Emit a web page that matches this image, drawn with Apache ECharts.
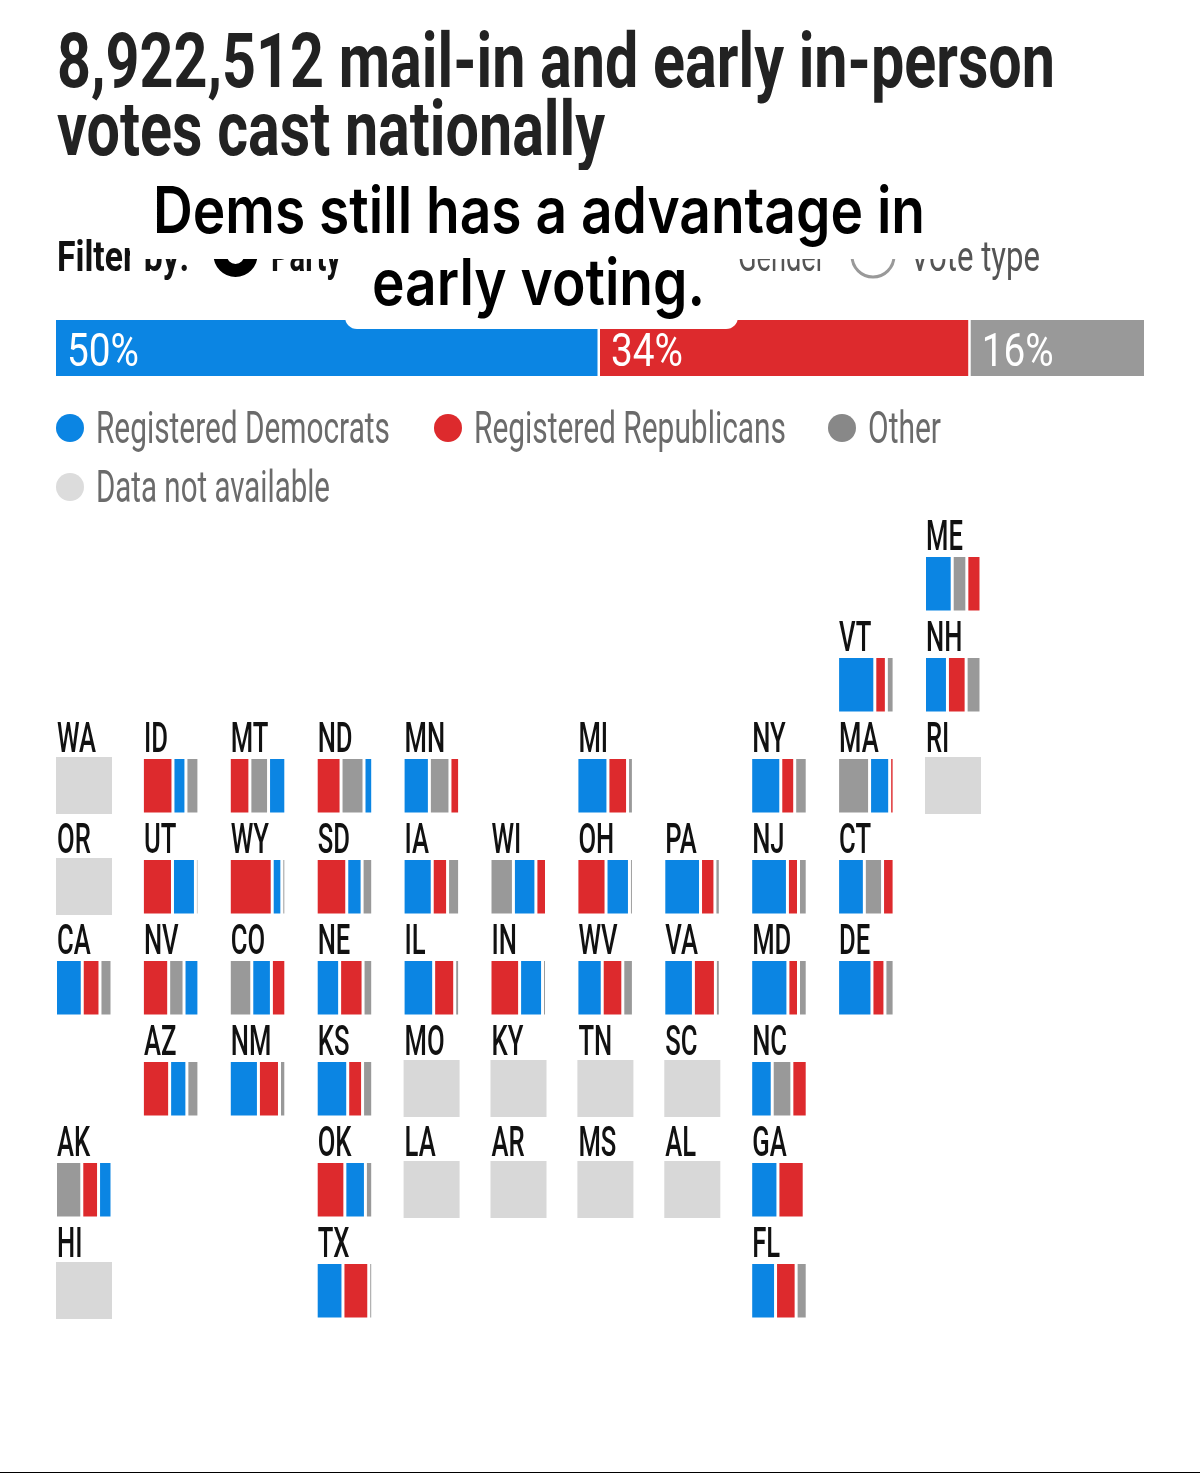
<!DOCTYPE html>
<html>
<head>
<meta charset="utf-8">
<script src="https://cdn.jsdelivr.net/npm/echarts@6/dist/echarts.min.js"></script>
<style>html,body{margin:0;padding:0;background:#fff}#c{width:1200px;height:1473px}</style>
</head>
<body>
<div id="c"></div>
<script>
// ---------- data ----------
const titleLines = ['8,922,512 mail-in and early in-person', 'votes cast nationally'];
const captionLines = ['Dems still has a advantage in', 'early voting.'];
const filterLabel = 'Filter by:';
const filterOptions = ['Party', 'Gender', 'Vote type'];
const parties = ['Registered Democrats', 'Registered Republicans', 'Other'];
const noData = 'Data not available';
const nationalShares = [50, 34, 16];

const states = ['ME','VT','NH','WA','ID','MT','ND','MN','MI','NY','MA','RI','OR','UT','WY','SD','IA','WI','OH','PA','NJ','CT','CA','NV','CO','NE','IL','IN','WV','VA','MD','DE','AZ','NM','KS','MO','KY','TN','SC','NC','AK','OK','LA','AR','MS','AL','GA','HI','TX','FL'];
const dem = [52,72,42,null,21,30,12,49,59,57,36,null,null,42,14,26,55,41,43,71,71,50,50,25,35,43,58,42,47,56,72,66,30,55,60,null,null,null,null,39,22,37,null,null,null,null,51,null,50,46];
const rep = [23.5,18,33,null,58,37,46,14,35,23,3,null,null,57,84,58,26,16,55,24,17,18,31,49,24,43,38,56,37,40,16,21,51,38,25,null,null,null,null,26,29,54,null,null,null,null,49,null,48,37];
const oth = [24.5,10,25,null,21,33,42,37,6,20,61,null,null,1,2,16,19,43,2,5,12,32,19,26,41,14,4,2,16,4,12,13,19,7,15,null,null,null,null,35,49,9,null,null,null,null,0,null,2,17];

// ---------- layout & style ----------
const rowsOfTiles = [
  {ME:10},
  {VT:9,NH:10},
  {WA:0,ID:1,MT:2,ND:3,MN:4,MI:6,NY:8,MA:9,RI:10},
  {OR:0,UT:1,WY:2,SD:3,IA:4,WI:5,OH:6,PA:7,NJ:8,CT:9},
  {CA:0,NV:1,CO:2,NE:3,IL:4,IN:5,WV:6,VA:7,MD:8,DE:9},
  {AZ:1,NM:2,KS:3,MO:4,KY:5,TN:6,SC:7,NC:8},
  {AK:0,OK:3,LA:4,AR:5,MS:6,AL:7,GA:8},
  {HI:0,TX:3,FL:8}
];
const partyColors = ['#0b85e3', '#dd2a2d', '#999999'];
const legendDot = ['#0b85e3', '#dd2a2d', '#888888', '#dcdcdc'];
const COND = 'Roboto,sans-serif';
const measure = document.createElement('canvas').getContext('2d');
function fit(text, font, w) { measure.font = font; return w / measure.measureText(text).width; }

const graphic = [];
function text(str, x, midY, size, weight, color, targetW, z, family) {
  const font = `${weight} ${size}px ${family || COND}`;
  graphic.push({type:'text', x, y:midY, scaleX: targetW ? fit(str,font,targetW) : 1, z: z||5, silent:true,
    style:{text:str, font, fill:color, verticalAlign:'middle', align:'left'}});
}

// title, filter row
text(titleLines[0], 57, 68, 76, 700, '#222', 998);
text(titleLines[1], 57, 136, 76, 700, '#222', 548);
text(filterLabel, 57, 260, 43, 700, '#111', 132);
text(filterOptions[0], 271, 260, 43, 700, '#111', 70);
text(filterOptions[1], 738, 260, 43, 400, '#555', 87);
text(filterOptions[2], 910, 260, 43, 400, '#555', 130);
graphic.push({type:'circle', z:5, silent:true, shape:{cx:235.5,cy:255,r:15.5}, style:{fill:'#fff',stroke:'#000',lineWidth:13}});
graphic.push({type:'circle', z:5, silent:true, shape:{cx:873,cy:256,r:21}, style:{fill:'#fff',stroke:'#999',lineWidth:3}});

// white caption plate over the filter row and the top of the bar
graphic.push({type:'rect', z:20, silent:true, shape:{x:130,y:170,width:828,height:89,r:[14,14,0,0]}, style:{fill:'#fff'}});
graphic.push({type:'rect', z:20, silent:true, shape:{x:345,y:250,width:393,height:79,r:[0,0,12,12]}, style:{fill:'#fff'}});
text(captionLines[0], 153, 214, 64, 600, '#000', 772, 21, 'Inter,Roboto,sans-serif');
text(captionLines[1], 372, 286, 64, 600, '#000', 333, 21, 'Inter,Roboto,sans-serif');

// legend
[[70,428,96,294],[448,428,474,312],[842,428,868,73],[70,487,96,234]].forEach((p,i) => {
  graphic.push({type:'circle', z:5, silent:true, shape:{cx:p[0],cy:p[1],r:14}, style:{fill:legendDot[i]}});
  text(i<3?parties[i]:noData, p[2], p[1]+4, 44, 400, '#6b6b6b', p[3]);
});

// ---------- charts ----------
const grids = [], xAxes = [], yAxes = [], series = [];
function addGrid(left, top, width, height, max) {
  const i = grids.length;
  grids.push({left, top, width, height, containLabel:false});
  xAxes.push({gridIndex:i, type:'value', min:0, max, show:false});
  yAxes.push({gridIndex:i, type:'category', data:[''], show:false});
  return i;
}
function addStack(gridIdx, key, order, values, gap) {
  order.forEach((p, n) => {
    series.push({type:'bar', name:parties[p], stack:key, xAxisIndex:gridIdx, yAxisIndex:gridIdx, barWidth:'100%',
      silent:true, animation:false, itemStyle:{color:partyColors[p]}, data:[values[p]]});
    if (n < order.length - 1) {
      series.push({type:'bar', name:'gap', stack:key, xAxisIndex:gridIdx, yAxisIndex:gridIdx, barWidth:'100%',
        silent:true, animation:false, itemStyle:{color:'transparent'}, data:[gap]});
    }
  });
}

// national bar
const natGap = 0.23, natIdx = addGrid(56, 320, 1088, 56, 100 + 2*natGap);
addStack(natIdx, 'national', [0,1,2], nationalShares, natGap);
let cum = 0;
const natLabels = nationalShares.map((s,i) => { const r = [cum, s + '%']; cum += s + natGap; return r; });
const pctFont = `400 47px ${COND}`, pctScale = fit('50%', pctFont, 72);
series.push({type:'custom', xAxisIndex:natIdx, yAxisIndex:natIdx, silent:true, animation:false, z:6,
  data: natLabels,
  renderItem: (params, api) => {
    const pt = api.coord([api.value(0), 0]);
    return {type:'text', x:pt[0]+11, y:354, scaleX:pctScale,
      style:{text:natLabels[params.dataIndex][1], font:pctFont, fill:'#fff', verticalAlign:'middle'}};
  }});

// tile map
const tileGap = 6.3, tileFont = `500 42px ${COND}`, tileScale = fit('WA', tileFont, 39);
rowsOfTiles.forEach((row, r) => {
  Object.keys(row).forEach(st => {
    const c = row[st], k = states.indexOf(st);
    const x = 57 + c * 86.9, y = 557 + r * 101;
    graphic.push({type:'text', x, y: y - 18, scaleX: tileScale, z:5, silent:true,
      style:{text:st, font:tileFont, fill:'#111', verticalAlign:'middle'}});
    if (dem[k] === null) {
      const g = addGrid(x - 1, y - 2, 56, 57, 100);
      series.push({type:'bar', name:noData, xAxisIndex:g, yAxisIndex:g, barWidth:'100%', silent:true, animation:false,
        itemStyle:{color:'#d8d8d8'}, data:[100]});
    } else {
      const g = addGrid(x, y, 53.5, 53.5, 100 + 2*tileGap);
      const vals = [dem[k], rep[k], oth[k]];
      const order = [0,1,2].sort((a,b) => vals[b] - vals[a]);
      addStack(g, st, order, vals, tileGap);
    }
  });
});

// thin rule at the foot of the page
graphic.push({type:'rect', z:5, silent:true, shape:{x:0,y:1472,width:1200,height:1}, style:{fill:'#000'}});

const chart = echarts.init(document.getElementById('c'), null, {renderer:'canvas'});
chart.setOption({animation:false, backgroundColor:'#fff', grid:grids, xAxis:xAxes, yAxis:yAxes, series, graphic:{elements:graphic}, tooltip:{show:false}});
</script>
</body>
</html>
